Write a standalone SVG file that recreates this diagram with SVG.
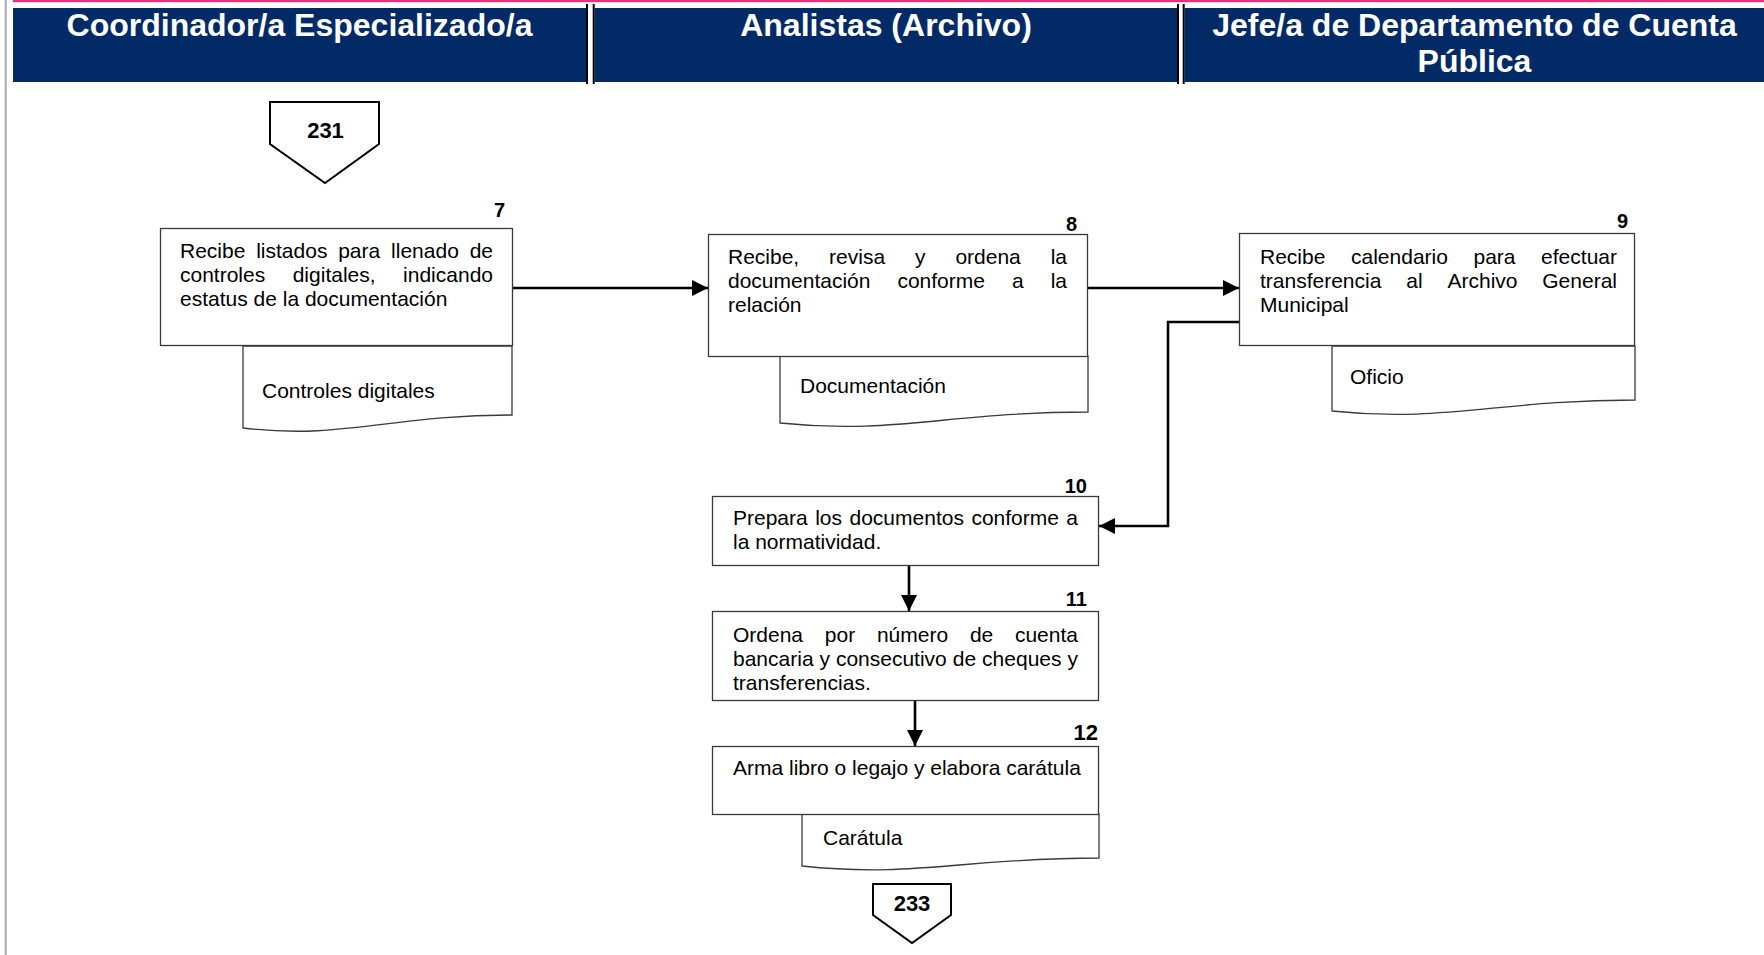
<svg xmlns="http://www.w3.org/2000/svg" width="1764" height="955" viewBox="0 0 1764 955">
  <style>
    .lane { fill: #022a66; }
    .sep { stroke: #000; stroke-width: 2; }
    .lane-title { font-family: "Liberation Sans", Arial, sans-serif; font-size: 32px; font-weight: bold; fill: #fff; text-anchor: middle; }
    .box { fill: #fff; stroke: #3a3a3a; stroke-width: 1.3; }
    .txt { font-family: "Liberation Sans", Arial, sans-serif; font-size: 21px; fill: #000; }
    .end { text-anchor: end; }
    .num { font-family: "Liberation Sans", Arial, sans-serif; font-size: 20px; font-weight: bold; fill: #000; text-anchor: end; }
    .ref { font-family: "Liberation Sans", Arial, sans-serif; font-size: 22px; font-weight: bold; fill: #000; text-anchor: middle; }
    .offpage { fill: #fff; stroke: #000; stroke-width: 2; stroke-linejoin: miter; }
    .conn { fill: none; stroke: #000; stroke-width: 2.6; }
  </style>
  <defs>
    <marker id="arrow" viewBox="0 0 16 16" refX="16" refY="8" markerWidth="16" markerHeight="16" markerUnits="userSpaceOnUse" orient="auto">
      <path d="M0,0 L16,8 L0,16 Z" fill="#000"/>
    </marker>
  </defs>

  <rect width="1764" height="955" fill="#fff"/>
  <!-- page margin rule and top accent -->
  <line x1="5.7" y1="0" x2="5.7" y2="955" stroke="#a9a9a9" stroke-width="2"/>
  <rect x="13" y="0" width="1751" height="2.2" fill="#e6317a"/>

  <!-- swimlane headers -->
  <g id="lanes">
    <rect class="lane" x="13" y="8" width="573" height="74"/>
    <rect class="lane" x="594.7" y="8" width="582.3" height="74"/>
    <rect class="lane" x="1184.7" y="8" width="579.3" height="74"/>
    <line class="sep" x1="587" y1="4" x2="587" y2="84"/>
    <line class="sep" x1="593.7" y1="4" x2="593.7" y2="84"/>
    <line class="sep" x1="1178" y1="4" x2="1178" y2="84"/>
    <line class="sep" x1="1183.7" y1="4" x2="1183.7" y2="84"/>
    <text class="lane-title" x="299.5" y="36">Coordinador/a Especializado/a</text>
    <text class="lane-title" x="886" y="36">Analistas (Archivo)</text>
    <text class="lane-title" x="1474.5" y="36">Jefe/a de Departamento de Cuenta</text>
    <text class="lane-title" x="1474.5" y="72">Pública</text>
  </g>

  <!-- off-page connector in -->
  <g id="ref-231">
    <polygon class="offpage" points="270,102 379,102 379,144 325,183 270,144"/>
    <text class="ref" x="325.5" y="138">231</text>
  </g>

  <!-- connectors -->
  <g id="connectors">
    <path class="conn" d="M513,288 H708" marker-end="url(#arrow)"/>
    <path class="conn" d="M1088,288 H1239" marker-end="url(#arrow)"/>
    <path class="conn" d="M1239,322 H1168 V526 H1099" marker-end="url(#arrow)"/>
    <path class="conn" d="M909,566 V611" marker-end="url(#arrow)"/>
    <path class="conn" d="M915,701 V746" marker-end="url(#arrow)"/>
  </g>

  <!-- step 7 -->
  <g id="step-7">
    <path class="box" d="M243,346 H512 V415 C391,415 343,440 243,428 Z"/>
    <rect class="box" x="160.5" y="228.5" width="352" height="117"/>
    <text class="num" x="505" y="217">7</text>
    <text class="txt" y="258"><tspan x="180">Recibe</tspan><tspan x="256.2">listados</tspan><tspan x="338.2">para</tspan><tspan x="391.1">llenado</tspan><tspan x="493" class="end">de</tspan></text>
    <text class="txt" y="282"><tspan x="180">controles</tspan><tspan x="292.7">digitales,</tspan><tspan x="493" class="end">indicando</tspan></text>
    <text class="txt" x="180" y="306">estatus de la documentación</text>
    <text class="txt" x="262" y="398">Controles digitales</text>
  </g>

  <!-- step 8 -->
  <g id="step-8">
    <path class="box" d="M780,356 H1088 V412 C949,412 894,435 780,423 Z"/>
    <rect class="box" x="708.5" y="234.5" width="379" height="122"/>
    <text class="num" x="1077" y="231">8</text>
    <text class="txt" y="264"><tspan x="728">Recibe,</tspan><tspan x="829.1">revisa</tspan><tspan x="915">y</tspan><tspan x="955.4">ordena</tspan><tspan x="1067" class="end">la</tspan></text>
    <text class="txt" y="288"><tspan x="728">documentación</tspan><tspan x="897.4">conforme</tspan><tspan x="1011.9">a</tspan><tspan x="1067" class="end">la</tspan></text>
    <text class="txt" x="728" y="312">relación</text>
    <text class="txt" x="800" y="393">Documentación</text>
  </g>

  <!-- step 9 -->
  <g id="step-9">
    <path class="box" d="M1332,346 H1635 V400 C1499,400 1444,423 1332,411 Z"/>
    <rect class="box" x="1239.5" y="233.5" width="395" height="112"/>
    <text class="num" x="1628" y="228">9</text>
    <text class="txt" y="264"><tspan x="1260">Recibe</tspan><tspan x="1351">calendario</tspan><tspan x="1473.5">para</tspan><tspan x="1617" class="end">efectuar</tspan></text>
    <text class="txt" y="288"><tspan x="1260">transferencia</tspan><tspan x="1406.3">al</tspan><tspan x="1447.5">Archivo</tspan><tspan x="1617" class="end">General</tspan></text>
    <text class="txt" x="1260" y="312">Municipal</text>
    <text class="txt" x="1350" y="384">Oficio</text>
  </g>

  <!-- step 10 -->
  <g id="step-10">
    <rect class="box" x="712.5" y="496.5" width="386" height="69"/>
    <text class="num" x="1087" y="493">10</text>
    <text class="txt" y="525"><tspan x="733">Prepara</tspan><tspan x="815.2">los</tspan><tspan x="849.5">documentos</tspan><tspan x="971.4">conforme</tspan><tspan x="1078" class="end">a</tspan></text>
    <text class="txt" x="733" y="549">la normatividad.</text>
  </g>

  <!-- step 11 -->
  <g id="step-11">
    <rect class="box" x="712.5" y="611.5" width="386" height="89"/>
    <text class="num" x="1087" y="606">11</text>
    <text class="txt" y="642"><tspan x="733">Ordena</tspan><tspan x="824.8">por</tspan><tspan x="876.9">número</tspan><tspan x="969.9">de</tspan><tspan x="1078" class="end">cuenta</tspan></text>
    <text class="txt" y="666"><tspan x="733">bancaria</tspan><tspan x="819.5">y</tspan><tspan x="835.9">consecutivo</tspan><tspan x="952.8">de</tspan><tspan x="982.1">cheques</tspan><tspan x="1078" class="end">y</tspan></text>
    <text class="txt" x="733" y="690">transferencias.</text>
  </g>

  <!-- step 12 -->
  <g id="step-12">
    <path class="box" d="M802,814 H1099 V858 C965,858 912,878 802,866 Z"/>
    <rect class="box" x="712.5" y="746.5" width="386" height="68"/>
    <text class="num" x="1098" y="740" style="font-size:22px">12</text>
    <text class="txt" x="733" y="775">Arma libro o legajo y elabora carátula</text>
    <text class="txt" x="823" y="845">Carátula</text>
  </g>

  <!-- off-page connector out -->
  <g id="ref-233">
    <polygon class="offpage" points="873,884 951,884 951,915 912,943 873,915"/>
    <text class="ref" x="912" y="911">233</text>
  </g>
</svg>
